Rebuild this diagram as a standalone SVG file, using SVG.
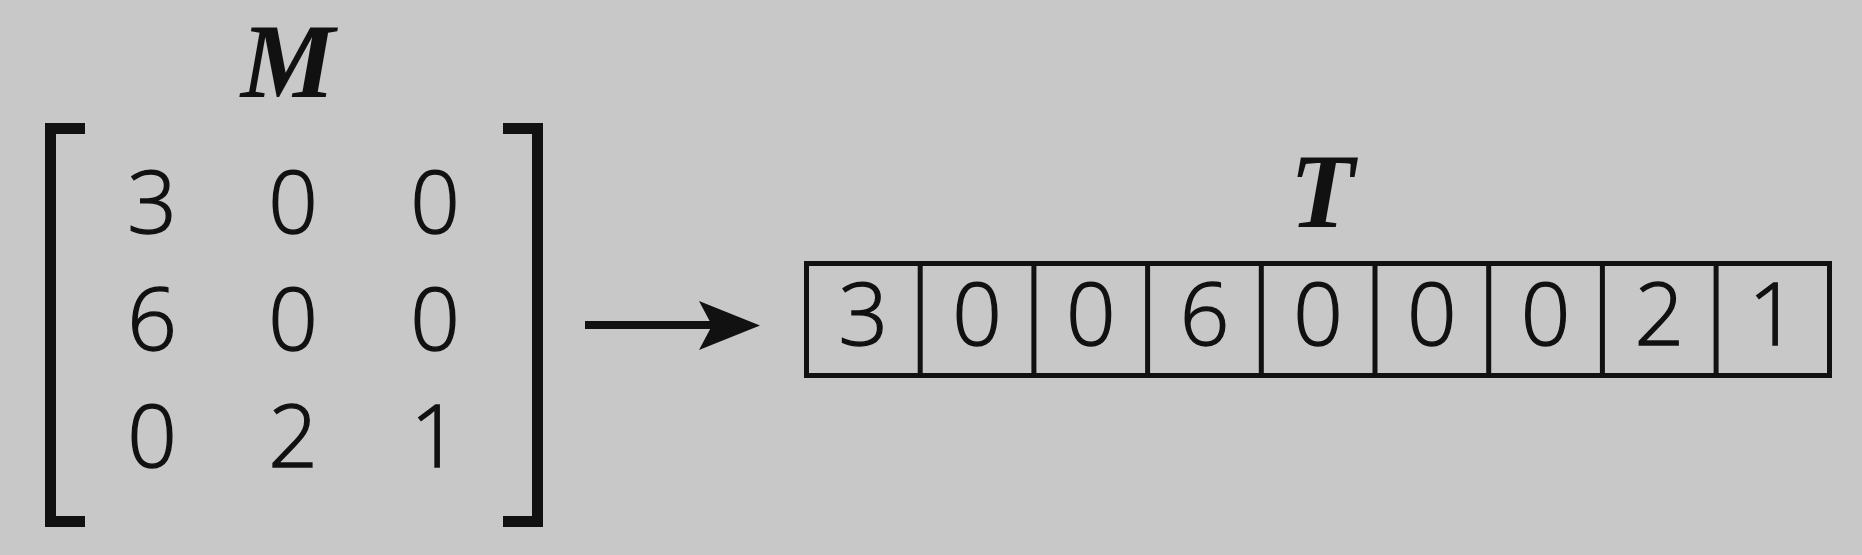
<svg xmlns="http://www.w3.org/2000/svg" width="1862" height="555" viewBox="0 0 1862 555">
  <style>
    .bg { fill: #c8c8c8; }
    .br { fill: none; stroke: #111; stroke-width: 11; stroke-linejoin: miter; stroke-linecap: butt; }
    .num { font-family: "Open Sans", "Liberation Sans", Arial, sans-serif; font-weight: 300; font-size: 87px; fill: #111; stroke: #111; stroke-width: 1.4; text-anchor: middle; }
    .lbl { font-family: "Liberation Serif", "Times New Roman", serif; font-size: 106px; font-weight: bold; font-style: italic; fill: #111; text-anchor: middle; }
    .cell { fill: none; stroke: #111; stroke-width: 5; }
    .conn { stroke: #111; stroke-width: 8; fill: none; }
    .head { fill: #111; }
  </style>
  <rect class="bg" x="0" y="0" width="1862" height="555"/>

  <g id="matrix-M">
    <text class="lbl" x="288" y="97">M</text>
    <path class="br" d="M85,128.5 H50.5 V521.5 H85"/>
    <path class="br" d="M503,128.5 H537.5 V521.5 H503"/>
    <text class="num" x="152" y="233">3</text>
    <text class="num" x="293" y="233">0</text>
    <text class="num" x="435" y="233">0</text>
    <text class="num" x="152" y="350">6</text>
    <text class="num" x="293" y="350">0</text>
    <text class="num" x="435" y="350">0</text>
    <text class="num" x="152" y="467">0</text>
    <text class="num" x="293" y="467">2</text>
    <text class="num" x="435" y="467">1</text>
  </g>

  <g id="connectors">
    <line class="conn" x1="585" y1="325" x2="712" y2="325"/>
    <path class="head" d="M760,325.5 L699,301 L712,325.5 L699,350 Z"/>
  </g>

  <g id="array-T">
    <text class="lbl" x="1322" y="227">T</text>
    <rect class="cell" x="806.5" y="263.5" width="1023" height="112"/>
    <line class="cell" x1="920.2" y1="263.5" x2="920.2" y2="375.5"/>
    <line class="cell" x1="1033.9" y1="263.5" x2="1033.9" y2="375.5"/>
    <line class="cell" x1="1147.6" y1="263.5" x2="1147.6" y2="375.5"/>
    <line class="cell" x1="1261.3" y1="263.5" x2="1261.3" y2="375.5"/>
    <line class="cell" x1="1375" y1="263.5" x2="1375" y2="375.5"/>
    <line class="cell" x1="1488.7" y1="263.5" x2="1488.7" y2="375.5"/>
    <line class="cell" x1="1602.4" y1="263.5" x2="1602.4" y2="375.5"/>
    <line class="cell" x1="1716.1" y1="263.5" x2="1716.1" y2="375.5"/>
    <text class="num" x="863.4" y="345">3</text>
    <text class="num" x="977.1" y="345">0</text>
    <text class="num" x="1090.8" y="345">0</text>
    <text class="num" x="1204.5" y="345">6</text>
    <text class="num" x="1318.2" y="345">0</text>
    <text class="num" x="1431.9" y="345">0</text>
    <text class="num" x="1545.6" y="345">0</text>
    <text class="num" x="1659.3" y="345">2</text>
    <text class="num" x="1773" y="345">1</text>
  </g>
</svg>
